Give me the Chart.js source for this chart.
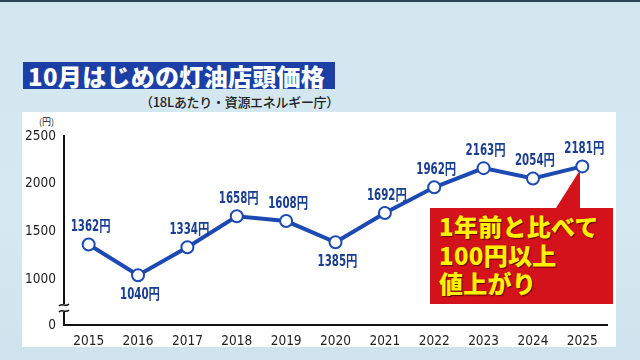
<!DOCTYPE html>
<html lang="ja">
<head>
<meta charset="UTF-8">
<title>10月はじめの灯油店頭価格</title>
<script src="https://cdn.jsdelivr.net/npm/chart.js"></script>
<style>
  html, body { margin: 0; padding: 0; }
  body {
    width: 640px; height: 360px; overflow: hidden; position: relative;
    background: linear-gradient(180deg, #d2e6f0 0%, #d6e9f2 60%, #cfe3ee 100%);
    font-family: "Noto Sans CJK JP", "Noto Sans", sans-serif;
  }
  #topline { position: absolute; left: 0; top: 0; width: 640px; height: 2px; background: #2d4457; }
  #panel { position: absolute; left: 22px; top: 112px; width: 594px; height: 235px; background: #fff; }
  #title {
    position: absolute; left: 23px; top: 62px; width: 312px; height: 27px;
    background: #1b3fa6; color: #fff; font-weight: 900; font-size: 24px;
    line-height: 27px; padding-left: 5px; box-sizing: border-box; letter-spacing: 0.3px;
    white-space: nowrap;
  }
  #sub { position: absolute; right: 301px; top: 92px; white-space: nowrap;
    font-size: 13px; color: #222; font-weight: 500; letter-spacing: -0.3px; }
  #unit { position: absolute; left: 39px; top: 115px; font-size: 9px; color: #222; }
  canvas { position: absolute; left: 0; top: 0; }
  #callout {
    position: absolute; left: 430px; top: 208px; width: 183px; height: 96px;
    background: #d4121c; box-sizing: border-box; padding: 4px 0 0 9px;
    color: #fff200; font-weight: 900; font-size: 24px; line-height: 28.5px; letter-spacing: 0.3px;
    text-shadow: 1px 1px 1px #5a0000; white-space: nowrap;
  }
  #callout::before {
    content: ""; position: absolute; left: 126px; top: -38px;
    border-right: 24px solid #d4121c; border-top: 38px solid transparent;
  }
</style>
</head>
<body>
<div id="topline"></div>
<div id="panel"></div>
<div id="title">10月はじめの灯油店頭価格</div>
<div id="sub">（18Lあたり・資源エネルギー庁）</div>
<div id="unit">(円)</div>
<canvas id="keroseneChart" width="640" height="360"></canvas>
<div id="callout">1年前と比べて<br>100円以上<br>値上がり</div>

<script>
// データ
const years = ['2015', '2016', '2017', '2018', '2019', '2020', '2021', '2022', '2023', '2024', '2025'];
const prices = [1362, 1040, 1334, 1658, 1608, 1385, 1692, 1962, 2163, 2054, 2181];
const yTicks = [1000, 1500, 2000, 2500];
const labelsBelow = ['2016', '2020'];

// 軸の省略部分（0 から 1000 の間を詰める）
const breakMin = 518;

const lineBlue = '#1c4ab2';
const labelBlue = '#1a3e92';
const tickFont = { family: '"DejaVu Sans Condensed", "Liberation Sans", sans-serif', size: 13.5 };

const valueLabels = {
  id: 'valueLabels',
  afterDatasetsDraw(chart) {
    const ctx = chart.ctx;
    const meta = chart.getDatasetMeta(0);
    ctx.save();
    ctx.font = 'bold 15px "DejaVu Sans Condensed", "Noto Sans CJK JP", sans-serif';
    ctx.fillStyle = labelBlue;
    ctx.textAlign = 'center';
    ctx.textBaseline = 'middle';
    meta.data.forEach((pt, i) => {
      const below = labelsBelow.includes(years[i]);
      ctx.save();
      ctx.translate(pt.x + 2, below ? pt.y + 20 : pt.y - 17);
      ctx.scale(0.76, 1);
      ctx.fillText(prices[i] + '円', 0, 0);
      ctx.restore();
    });
    ctx.restore();
  }
};

const axisBreak = {
  id: 'axisBreak',
  afterDraw(chart) {
    const ctx = chart.ctx;
    const x = chart.scales.y.right;
    const y1 = chart.scales.y.getPixelForValue(breakMin) - 20;
    ctx.save();
    ctx.fillStyle = '#fff';
    ctx.fillRect(x - 3, y1 - 1, 6, 8);
    ctx.strokeStyle = '#111';
    ctx.lineWidth = 1.5;
    [y1, y1 + 6].forEach(yy => {
      ctx.beginPath();
      ctx.moveTo(x - 5, yy + 1);
      ctx.bezierCurveTo(x - 2, yy - 3, x + 1, yy + 3, x + 5, yy - 1);
      ctx.stroke();
    });
    ctx.restore();
  }
};

const ctx = document.getElementById('keroseneChart').getContext('2d');
new Chart(ctx, {
  type: 'line',
  data: {
    labels: years,
    datasets: [{
      data: prices,
      borderColor: lineBlue,
      borderWidth: 4,
      pointRadius: 6,
      pointHoverRadius: 6,
      pointBackgroundColor: '#fff',
      pointBorderColor: lineBlue,
      pointBorderWidth: 2,
      tension: 0
    }]
  },
  options: {
    responsive: false,
    animation: false,
    layout: { padding: { top: 136, right: 33, bottom: 0, left: 0 } },
    plugins: { legend: { display: false }, tooltip: { enabled: false } },
    scales: {
      x: {
        offset: true,
        grid: { display: false, drawTicks: false },
        border: { display: true, color: '#111', width: 2 },
        ticks: { color: '#222', padding: 8, font: tickFont },
        afterFit(scale) { scale.height = 35; }
      },
      y: {
        min: breakMin,
        max: 2500,
        grid: { display: false, drawTicks: false },
        border: { display: true, color: '#111', width: 2 },
        afterBuildTicks(scale) {
          scale.ticks = [{ value: breakMin }].concat(yTicks.map(v => ({ value: v })));
        },
        ticks: {
          color: '#222', padding: 8, font: tickFont,
          callback: v => (v === breakMin ? '0' : v)
        },
        afterFit(scale) { scale.width = 64; }
      }
    }
  },
  plugins: [valueLabels, axisBreak]
});
</script>
</body>
</html>
